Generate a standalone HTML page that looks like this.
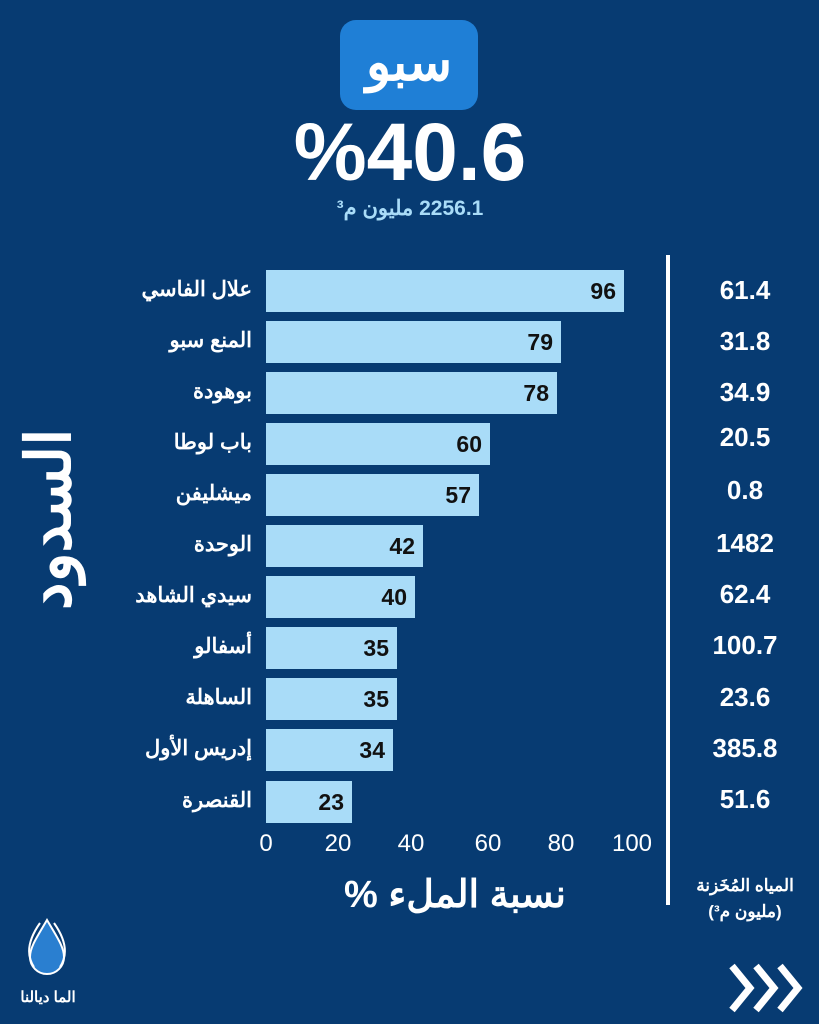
<!DOCTYPE html>
<html><head><meta charset="utf-8"><style>
body{margin:0;width:819px;height:1024px;background:#073b72;overflow:hidden;position:relative;font-family:"Liberation Sans","Noto Sans CJK SC",sans-serif;color:#fff}
.a{position:absolute}
.bar{position:absolute;left:266px;height:42px;background:#a9dcf8;}
.bar span{position:absolute;right:8px;top:8px;font-size:23px;font-weight:bold;color:#111}
.lab{position:absolute;right:567px;font-size:21px;font-weight:bold;white-space:nowrap;direction:rtl}
.val{position:absolute;left:690px;width:110px;text-align:center;font-size:26px;font-weight:bold}
.tick{position:absolute;top:830px;font-size:24px;width:70px;text-align:center;margin-left:-35px}
</style></head><body>
<div class="a" style="left:340px;top:20px;width:138px;height:90px;background:#1f7fd6;border-radius:16px;text-align:center;font-size:52px;font-weight:bold;line-height:86px">سبو</div>
<div class="a" style="left:270px;top:108px;width:280px;text-align:center;font-size:82px;font-weight:bold;line-height:90px">%40.6</div>
<div class="a" style="left:300px;top:196px;width:220px;text-align:center;font-size:21px;font-weight:bold;color:#a9dcf8;direction:rtl">2256.1 مليون م³</div>
<div class="a" style="left:-30px;top:495px;width:160px;text-align:center;font-size:62px;font-weight:bold;transform:rotate(-90deg);line-height:70px">السدود</div>
<div class="a" style="left:666px;top:255px;width:4px;height:650px;background:#fff"></div>

<div class="bar" style="top:270px;width:358px"><span>96</span></div>
<div class="bar" style="top:321px;width:295px"><span>79</span></div>
<div class="bar" style="top:372px;width:291px"><span>78</span></div>
<div class="bar" style="top:423px;width:224px"><span>60</span></div>
<div class="bar" style="top:474px;width:213px"><span>57</span></div>
<div class="bar" style="top:525px;width:157px"><span>42</span></div>
<div class="bar" style="top:576px;width:149px"><span>40</span></div>
<div class="bar" style="top:627px;width:131px"><span>35</span></div>
<div class="bar" style="top:678px;width:131px"><span>35</span></div>
<div class="bar" style="top:729px;width:127px"><span>34</span></div>
<div class="bar" style="top:781px;width:86px"><span>23</span></div>

<div class="lab" style="top:277px">علال الفاسي</div>
<div class="lab" style="top:328px">المنع سبو</div>
<div class="lab" style="top:379px">بوهودة</div>
<div class="lab" style="top:430px">باب لوطا</div>
<div class="lab" style="top:481px">ميشليفن</div>
<div class="lab" style="top:532px">الوحدة</div>
<div class="lab" style="top:583px">سيدي الشاهد</div>
<div class="lab" style="top:634px">أسفالو</div>
<div class="lab" style="top:685px">الساهلة</div>
<div class="lab" style="top:736px">إدريس الأول</div>
<div class="lab" style="top:788px">القنصرة</div>

<div class="val" style="top:275px">61.4</div>
<div class="val" style="top:326px">31.8</div>
<div class="val" style="top:377px">34.9</div>
<div class="val" style="top:422px">20.5</div>
<div class="val" style="top:475px">0.8</div>
<div class="val" style="top:528px">1482</div>
<div class="val" style="top:579px">62.4</div>
<div class="val" style="top:630px">100.7</div>
<div class="val" style="top:682px">23.6</div>
<div class="val" style="top:733px">385.8</div>
<div class="val" style="top:784px">51.6</div>

<div class="tick" style="left:266px">0</div>
<div class="tick" style="left:338px">20</div>
<div class="tick" style="left:411px">40</div>
<div class="tick" style="left:488px">60</div>
<div class="tick" style="left:561px">80</div>
<div class="tick" style="left:632px">100</div>
<div class="a" style="left:320px;top:872px;width:270px;text-align:center;font-size:38px;font-weight:bold;direction:rtl">نسبة الملء %</div>
<div class="a" style="left:680px;top:873px;width:130px;text-align:center;font-size:17px;font-weight:bold;line-height:26px;direction:rtl">المياه المُخَزنة<br>(مليون م³)</div>

<svg class="a" style="left:22px;top:915px" width="50" height="65" viewBox="0 0 50 65">
<path d="M25 5 C15 22 8 32 8 42 a17 17 0 0 0 34 0 C42 32 35 22 25 5Z" fill="#2a7fd0" stroke="#fff" stroke-width="2"/>
<path d="M12 52 C4 40 6 25 18 8 M38 52 C46 40 44 25 32 8" fill="none" stroke="#fff" stroke-width="2"/>
</svg>
<div class="a" style="left:10px;top:988px;width:76px;text-align:center;font-size:15px;font-weight:bold">الما ديالنا</div>
<svg class="a" style="left:728px;top:962px" width="78" height="52" viewBox="0 0 78 52">
<g fill="none" stroke="#fff" stroke-width="7" stroke-linejoin="miter">
<polyline points="4,4 22,26 4,48"/><polyline points="28,4 46,26 28,48"/><polyline points="52,4 70,26 52,48"/>
</g></svg>
</body></html>
